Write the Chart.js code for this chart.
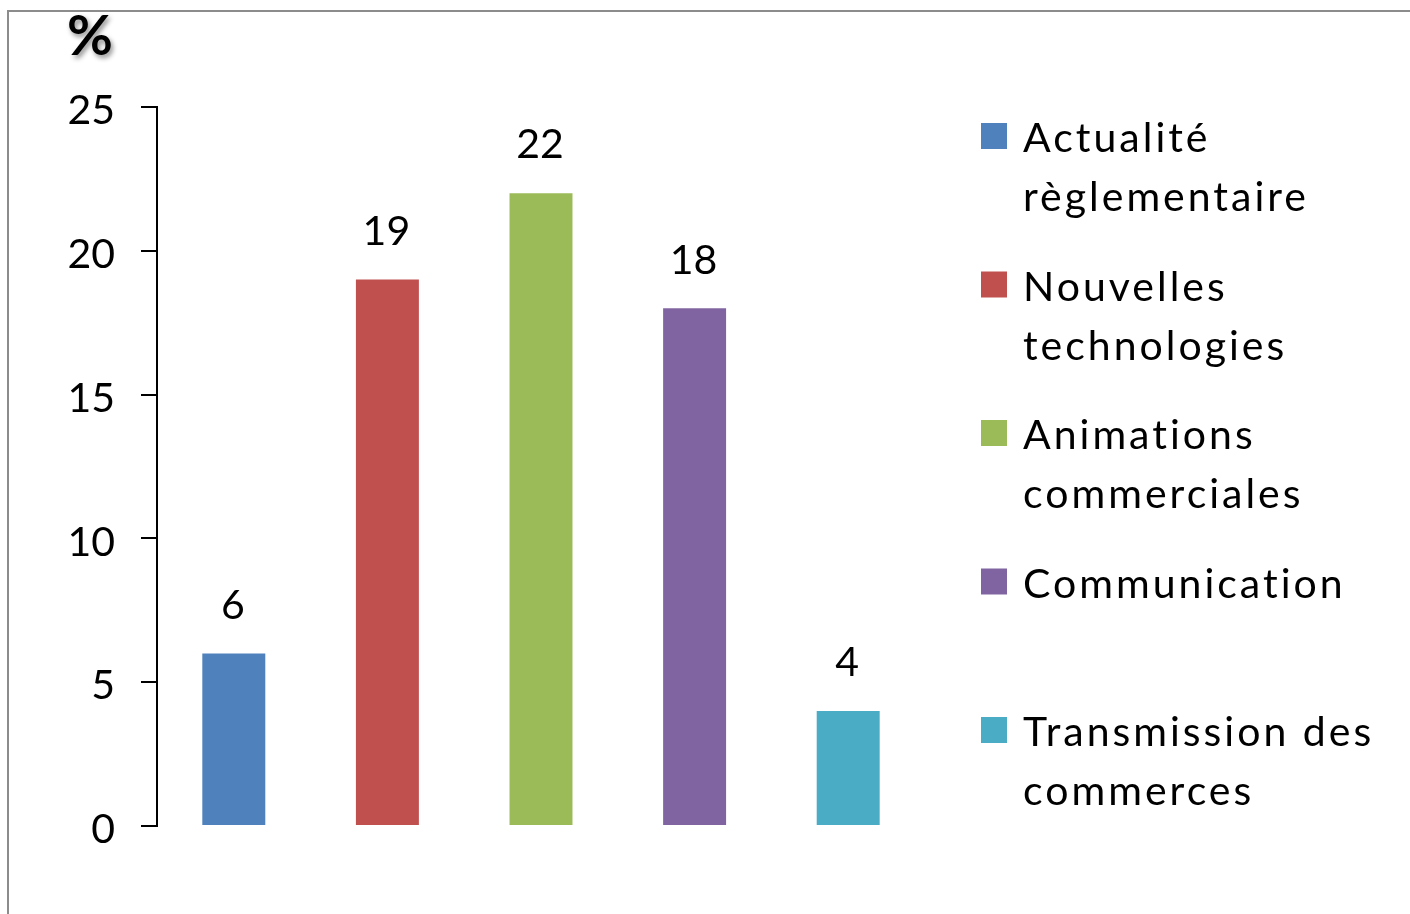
<!DOCTYPE html>
<html>
<head>
<meta charset="utf-8">
<script src="https://cdn.jsdelivr.net/npm/chart.js@4"></script>
<style>
  body { margin: 0; background: #fff; }
</style>
</head>
<body>
<canvas id="chart" width="1410" height="914"></canvas>
<script>
// Data
const categories = [
  ['Actualité', 'règlementaire'],
  ['Nouvelles', 'technologies'],
  ['Animations', 'commerciales'],
  ['Communication'],
  ['Transmission des', 'commerces']
];
const values = [6, 19, 22, 18, 4];
const colors = ['#4F81BD', '#C0504D', '#9BBB59', '#8064A2', '#4BACC6'];
const yTicks = [0, 5, 10, 15, 20, 25];
const unitLabel = '%';

const FONT = 'Lato, "Open Sans", sans-serif';

// Frame, "%" label and legend on the right
const decorations = {
  id: 'decorations',
  afterDraw(chart) {
    const ctx = chart.ctx;
    ctx.save();
    ctx.strokeStyle = '#8c8c8c';
    ctx.lineWidth = 2;
    ctx.beginPath();
    ctx.moveTo(8, 914);
    ctx.lineTo(8, 11);
    ctx.lineTo(1410, 11);
    ctx.stroke();

    // unit label with shadow
    ctx.font = 'bold 56px ' + FONT;
    ctx.fillStyle = '#000';
    ctx.textAlign = 'center';
    ctx.textBaseline = 'alphabetic';
    ctx.shadowColor = 'rgba(0,0,0,0.45)';
    ctx.shadowBlur = 5;
    ctx.shadowOffsetX = 2;
    ctx.shadowOffsetY = 3;
    ctx.fillText(unitLabel, 90, 55);
    ctx.restore();

    // legend
    ctx.save();
    ctx.font = '41px ' + FONT;
    ctx.fillStyle = '#000';
    ctx.textAlign = 'left';
    ctx.textBaseline = 'alphabetic';
    ctx.letterSpacing = '3px';
    const ds = chart.data.datasets[0];
    chart.data.labels.forEach((lines, i) => {
      const top = 123 + i * 148.5;
      ctx.fillStyle = ds.backgroundColor[i];
      ctx.fillRect(981, top, 26, 26);
      ctx.fillStyle = '#000';
      lines.forEach((line, j) => {
        ctx.fillText(line, 1023, top + 29 + j * 59);
      });
    });
    ctx.restore();
  }
};

// Value labels above the bars
const valueLabels = {
  id: 'valueLabels',
  afterDatasetsDraw(chart) {
    const ctx = chart.ctx;
    const meta = chart.getDatasetMeta(0);
    ctx.save();
    ctx.font = '41px ' + FONT;
    ctx.fillStyle = '#000';
    ctx.textAlign = 'center';
    ctx.textBaseline = 'middle';
    meta.data.forEach((bar, i) => {
      ctx.fillText(String(values[i]), bar.x - 1, bar.y - 48);
    });
    ctx.restore();
  }
};

new Chart(document.getElementById('chart'), {
  type: 'bar',
  data: {
    labels: categories,
    datasets: [{
      data: values,
      backgroundColor: colors,
      borderWidth: 0,
      barPercentage: 0.41,
      categoryPercentage: 1
    }]
  },
  options: {
    responsive: false,
    animation: false,
    layout: { padding: { top: 107, bottom: 88, left: 0, right: 485 } },
    plugins: {
      legend: { display: false },
      tooltip: { enabled: false }
    },
    scales: {
      x: { display: false },
      y: {
        min: 0,
        max: 25,
        afterFit(scale) { scale.width = 157; },
        afterBuildTicks(scale) { scale.ticks = yTicks.map(v => ({ value: v })); },
        ticks: {
          color: '#000',
          padding: 26,
          labelOffset: 4,
          font: { family: FONT, size: 41 }
        },
        grid: {
          drawOnChartArea: false,
          drawTicks: true,
          tickLength: 16,
          color: '#000',
          lineWidth: 2
        },
        border: { display: true, color: '#000', width: 2 }
      }
    }
  },
  plugins: [decorations, valueLabels]
});
</script>
</body>
</html>
